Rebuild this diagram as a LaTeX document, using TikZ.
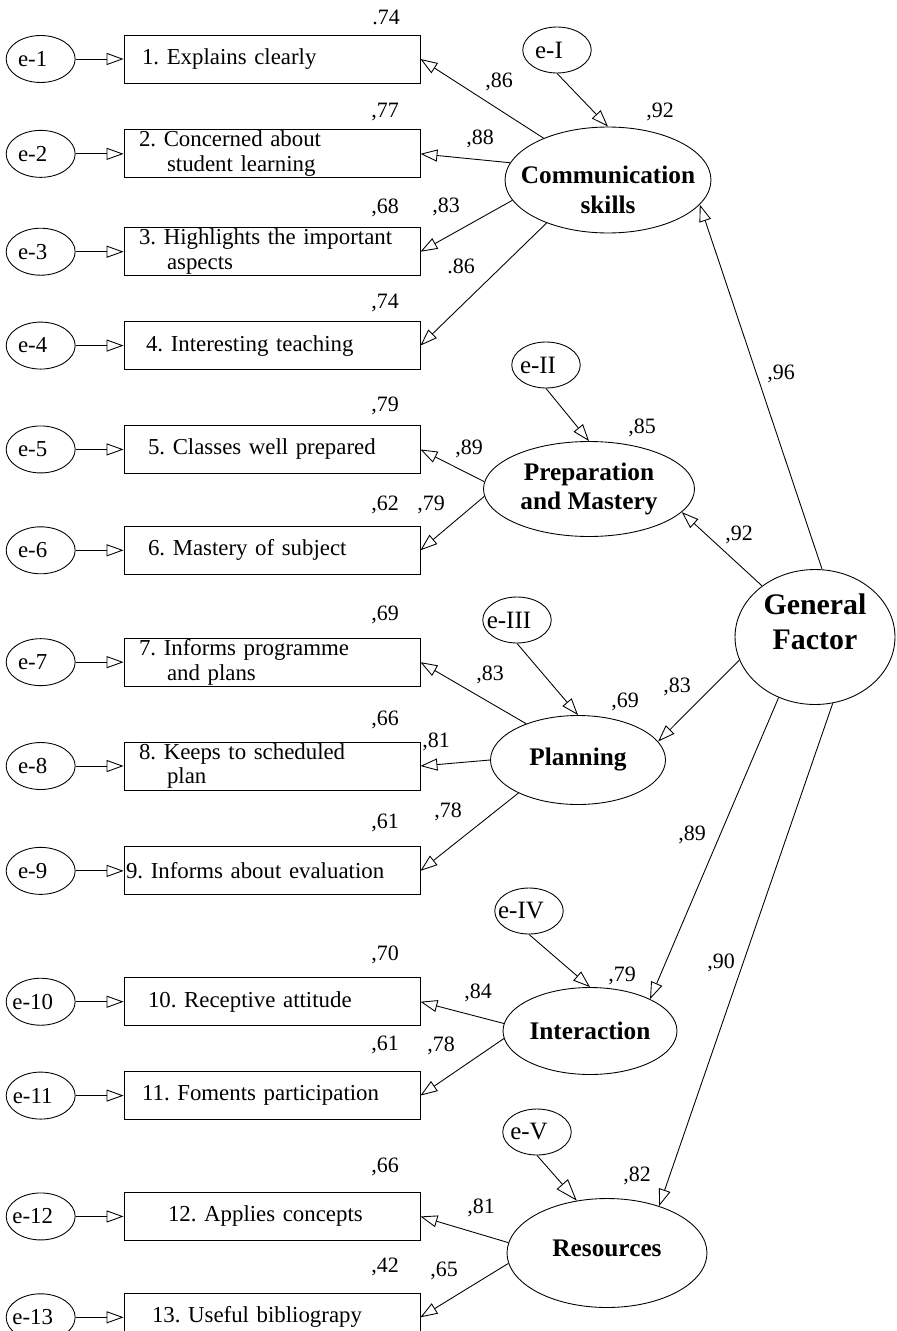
\documentclass[tikz,border=0pt]{standalone}
\usepackage{fontspec}
\setmainfont{Liberation Serif}
\usetikzlibrary{shapes.geometric,arrows.meta,positioning}
\frenchspacing

\begin{document}
\begin{tikzpicture}[
            x=0.02cm, y=-0.02cm, line width=0.5pt,
            item/.style={rectangle, draw, minimum width=5.92cm, minimum height=0.96cm, text width=5.32cm, inner xsep=0.3cm, inner ysep=0pt, align=left, font=\fontsize{13}{14.2}\selectfont},
            err/.style={ellipse, draw, minimum width=1.38cm, minimum height=0.94cm, inner sep=0pt, font=\fontsize{13}{15}\selectfont, execute at begin node=\hspace*{-0.32cm}},
            dist/.style={err, minimum width=1.37cm, minimum height=0.92cm, font=\fontsize{14.2}{16}\selectfont},
            latent/.style={ellipse, draw, inner sep=0pt, align=center, font=\fontsize{14.4}{17}\selectfont\bfseries},
            coef/.style={anchor=base, inner sep=0pt, font=\fontsize{12.5}{14}\selectfont},
            arrow/.style={-{Triangle[open, length=0.34cm, width=0.24cm]}}
        ]
        \useasboundingbox (0,0) rectangle (896,1331);

        % observed items
        \node[item] (b1) at (272,59) {\hspace*{0.06cm}1. Explains clearly};
        \node[item, below=0.92cm of b1] (b2) {2. Concerned about\\\hspace*{0.56cm}student learning};
        \node[item, below=0.98cm of b2] (b3) {3. Highlights the important\\\hspace*{0.56cm}aspects};
        \node[item, below=0.90cm of b3] (b4) {\hspace*{0.14cm}4. Interesting teaching};
        \node[item, below=1.10cm of b4] (b5) {\hspace*{0.18cm}5. Classes well prepared};
        \node[item, below=1.04cm of b5] (b6) {\hspace*{0.18cm}6. Mastery of subject};
        \node[item, below=1.26cm of b6] (b7) {7. Informs programme\\\hspace*{0.56cm}and plans};
        \node[item, below=1.10cm of b7] (b8) {8. Keeps to scheduled\\\hspace*{0.56cm}plan};
        \node[item, below=1.12cm of b8] (b9) {\hspace*{-0.26cm}9. Informs about evaluation};
        \node[item, below=1.64cm of b9] (b10) {\hspace*{0.18cm}10. Receptive attitude};
        \node[item, below=0.90cm of b10] (b11) {\hspace*{0.06cm}11. Foments participation};
        \node[item, below=1.44cm of b11] (b12) {\hspace*{0.58cm}12. Applies concepts};
        \node[item, below=1.04cm of b12] (b13) {\hspace*{0.26cm}13. Useful bibliograpy};

        % item errors
        \node[err, left=0.96cm of b1] (e1) {e-1};
        \node[err, left=0.96cm of b2] (e2) {e-2};
        \node[err, left=0.96cm of b3] (e3) {e-3};
        \node[err, left=0.96cm of b4] (e4) {e-4};
        \node[err, left=0.96cm of b5] (e5) {e-5};
        \node[err, left=0.96cm of b6] (e6) {e-6};
        \node[err, left=0.96cm of b7] (e7) {e-7};
        \node[err, left=0.96cm of b8] (e8) {e-8};
        \node[err, left=0.96cm of b9] (e9) {e-9};
        \node[err, left=0.96cm of b10] (e10) {e-10};
        \node[err, left=0.96cm of b11] (e11) {e-11};
        \node[err, left=0.96cm of b12] (e12) {e-12};
        \node[err, left=0.96cm of b13] (e13) {e-13};

        % factors
        \node[latent, minimum width=4.12cm, minimum height=2.12cm, inner xsep=-0.3cm] (comm) at (608,180) {\rule{0pt}{0.75cm}Communication\\skills};
        \node[latent, minimum width=4.22cm, minimum height=1.9cm] (prep) at (589,489) {Preparation\\and Mastery};
        \node[latent, minimum width=3.5cm, minimum height=1.78cm] (plan) at (578,760) {Planning};
        \node[latent, minimum width=3.48cm, minimum height=1.74cm] (inter) at (590,1031) {Interaction};
        \node[latent, minimum width=4cm, minimum height=2.18cm] (res) at (607,1253) {Resources\rule[-0.2cm]{0pt}{0pt}};
        \node[latent, minimum width=3.2cm, minimum height=2.7cm, font=\fontsize{17}{19.9}\selectfont\bfseries] (gf) at (815,637) {General\\Factor\rule[-0.6cm]{0pt}{0.6cm}};

        % factor disturbances
        \node[dist] (eI) at (557,50) {e-I};
        \node[dist] (eII) at (546,365) {e-II};
        \node[dist] (eIII) at (517,620) {e-III};
        \node[dist] (eIV) at (529,911) {e-IV};
        \node[dist] (eV) at (537,1132) {e-V};

        % squared multiple correlations
        \node[coef] (r1) at (386,25) {.74};
        \node[coef] (r2) at (385,118) {,77};
        \node[coef] (r3) at (385,214) {,68};
        \node[coef] (r4) at (385,308) {,74};
        \node[coef] (r5) at (385,411) {,79};
        \node[coef] (r6) at (385,510) {,62};
        \node[coef] (r7) at (385,620) {,69};
        \node[coef] (r8) at (385,725) {,66};
        \node[coef] (r9) at (385,828) {,61};
        \node[coef] (r10) at (385,960) {,70};
        \node[coef] (r11) at (385,1050) {,61};
        \node[coef] (r12) at (385,1172) {,66};
        \node[coef] (r13) at (385,1272) {,42};
        \node[coef] (f1) at (660,118) {,92};
        \node[coef] (f2) at (642,433) {,85};
        \node[coef] (f3) at (625,707) {,69};
        \node[coef] (f4) at (622,981) {,79};
        \node[coef] (f5) at (637,1181) {,82};

        % loadings
        \node[coef] (l1) at (499,88) {,86};
        \node[coef] (l2) at (480,145) {,88};
        \node[coef] (l3) at (446,213) {,83};
        \node[coef] (l4) at (461,273) {.86};
        \node[coef] (l5) at (469,454) {,89};
        \node[coef] (l6) at (431,510) {,79};
        \node[coef] (l7) at (490,680) {,83};
        \node[coef] (l8) at (436,747) {,81};
        \node[coef] (l9) at (448,817) {,78};
        \node[coef] (l10) at (478,998) {,84};
        \node[coef] (l11) at (441,1051) {,78};
        \node[coef] (l12) at (481,1213) {,81};
        \node[coef] (l13) at (444,1276) {,65};
        \node[coef] (g1) at (781,379) {,96};
        \node[coef] (g2) at (739,540) {,92};
        \node[coef] (g3) at (677,692) {,83};
        \node[coef] (g4) at (692,840) {,89};
        \node[coef] (g5) at (721,968) {,90};

        \draw[arrow] (e1) -- (b1);
        \draw[arrow] (e2) -- (b2);
        \draw[arrow] (e3) -- (b3);
        \draw[arrow] (e4) -- (b4);
        \draw[arrow] (e5) -- (b5);
        \draw[arrow] (e6) -- (b6);
        \draw[arrow] (e7) -- (b7);
        \draw[arrow] (e8) -- (b8);
        \draw[arrow] (e9) -- (b9);
        \draw[arrow] (e10) -- (b10);
        \draw[arrow] (e11) -- (b11);
        \draw[arrow] (e12) -- (b12);
        \draw[arrow] (e13) -- (b13);

        \draw[arrow] (comm.147) -- (b1.east);
        \draw[arrow] (comm.170) -- (b2.east);
        \draw[arrow] (comm.192) -- (b3.east);
        \draw[arrow] (comm.215) -- (b4.east);
        \draw[arrow] (prep.176) -- (b5.east);
        \draw[arrow] (prep.184) -- (b6.east);
        \draw[arrow] (plan.145) -- (b7.east);
        \draw[arrow] (plan.180) -- (b8.east);
        \draw[arrow] (plan.209) -- (b9.east);
        \draw[arrow] (inter.175) -- (b10.east);
        \draw[arrow] (inter.185) -- (b11.east);
        \draw[arrow] (res.174) -- (b12.east);
        \draw[arrow] (res.186) -- (b13.east);

        \draw[arrow] (eI.south) -- (comm.north);
        \draw[arrow] (eII.south) -- (prep.north);
        \draw[arrow] (eIII.south) -- (plan.north);
        \draw[arrow] (eIV.south) -- (inter.north);
        \draw[-{Triangle[open, length=0.44cm, width=0.3cm]}] (eV.south) -- (res.120);

        \draw[arrow] (gf.84) -- (comm.345);
        \draw[arrow] (gf.136) -- (prep.346);
        \draw[arrow] (gf.197) -- (plan.13);
        \draw[arrow] (gf.239) -- (inter.28);
        \draw[arrow] (gf.285) -- (res.42);

        \end{tikzpicture}
\end{document}
